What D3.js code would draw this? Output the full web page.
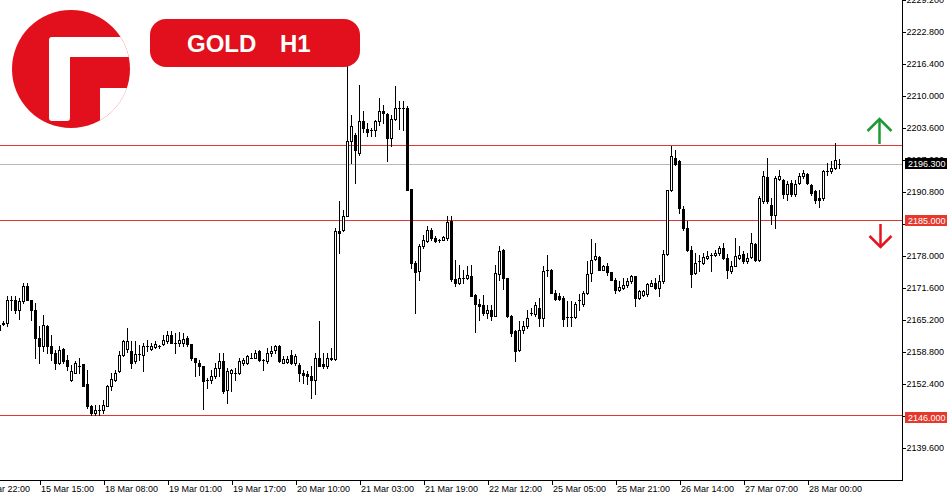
<!DOCTYPE html>
<html><head><meta charset="utf-8">
<script src="https://cdn.jsdelivr.net/npm/d3@7"></script>
<style>body{margin:0;background:#fff;}svg{display:block;}</style>
</head><body>
<svg id="c" width="950" height="500"></svg>
<script>
// ---- data (hourly candles, oldest first) ----
const openPrices = [
 2164.2,2164.4,2164.5,2169.2,2169.2,2167.1,2169.0,2172.0,2169.2,2167.1,
 2161.5,2159.9,2164.0,2159.9,2158.7,2156.7,2159.3,2157.1,2153.1,2154.7,
 2156.0,2156.4,2152.4,2147.9,2146.7,2147.1,2147.1,2148.0,2152.0,2153.2,
 2154.9,2158.1,2159.4,2159.0,2156.9,2158.4,2158.2,2160.0,2159.4,2159.7,
 2160.0,2160.4,2160.9,2162.2,2160.7,2160.5,2160.5,2161.7,2160.3,2157.5,
 2156.7,2155.9,2153.2,2153.1,2154.0,2155.7,2157.0,2151.1,2154.5,2154.7,
 2154.5,2156.5,2156.7,2157.7,2157.7,2158.9,2157.1,2156.9,2158.5,2159.1,
 2160.0,2156.7,2156.8,2158.2,2156.5,2156.1,2154.7,2154.3,2153.9,2153.2,
 2157.5,2156.4,2155.9,2157.3,2157.3,2182.9,2183.1,2186.0,2200.9,2202.2,
 2198.5,2205.0,2203.3,2203.2,2203.1,2204.9,2207.0,2206.4,2201.5,2205.3,
 2207.5,2207.6,2207.7,2191.3,2176.7,2174.9,2180.0,2180.9,2183.1,2181.5,
 2181.2,2181.2,2181.5,2184.9,2173.3,2172.5,2173.7,2173.7,2174.0,2170.2,
 2168.4,2168.2,2166.7,2167.2,2166.0,2174.4,2179.1,2173.5,2166.0,2162.9,
 2159.1,2163.1,2163.9,2166.5,2166.4,2167.5,2165.5,2175.1,2175.2,2170.7,
 2169.9,2169.7,2165.7,2165.7,2165.7,2169.2,2168.4,2170.5,2174.5,2177.3,
 2177.7,2175.2,2175.9,2174.7,2173.2,2171.1,2171.5,2172.1,2172.9,2173.9,
 2169.7,2170.2,2170.4,2172.0,2172.5,2171.5,2172.9,2178.4,2191.1,2197.5,
 2196.9,2187.3,2183.5,2179.1,2174.5,2176.9,2176.7,2177.5,2178.2,2178.1,
 2178.5,2179.5,2177.5,2174.9,2176.0,2177.5,2178.4,2176.9,2177.7,2180.4,
 2177.1,2188.9,2193.7,2188.2,2186.2,2193.3,2193.2,2190.4,2192.5,2190.4,
 2192.7,2193.9,2194.4,2192.2,2190.9,2189.5,2189.5,2194.9,2194.9,2195.5,
 2196.4];
const highPrices = [
 2164.8,2164.9,2169.9,2170.0,2170.0,2169.5,2172.5,2172.5,2169.2,2168.5,
 2163.9,2166.2,2164.2,2162.2,2159.2,2159.9,2159.5,2158.2,2156.2,2156.9,
 2157.5,2156.4,2155.2,2148.2,2148.2,2148.2,2149.2,2152.2,2154.5,2155.2,
 2158.9,2161.2,2163.5,2160.9,2160.9,2160.2,2160.7,2161.1,2160.5,2160.9,
 2160.2,2162.2,2162.9,2162.9,2162.5,2162.7,2162.5,2161.9,2160.3,2157.5,
 2157.2,2156.0,2153.5,2155.1,2156.5,2158.7,2158.7,2155.5,2155.3,2155.5,
 2157.5,2157.5,2158.2,2158.5,2159.1,2159.2,2157.3,2159.5,2159.9,2160.1,
 2160.2,2157.9,2157.9,2159.2,2158.4,2156.7,2155.1,2154.9,2155.9,2158.5,
 2164.9,2158.5,2158.7,2159.5,2183.5,2188.9,2187.2,2217.6,2206.2,2202.6,
 2212.2,2206.9,2204.5,2203.7,2205.2,2209.5,2208.2,2206.7,2206.2,2211.9,
 2208.9,2208.9,2208.0,2191.3,2176.9,2180.4,2182.2,2183.9,2183.5,2181.9,
 2181.3,2181.9,2186.0,2186.0,2177.1,2176.2,2175.2,2175.9,2176.2,2170.4,
 2169.3,2170.2,2168.2,2168.2,2176.2,2180.0,2179.3,2173.7,2166.2,2163.1,
 2164.9,2164.9,2167.2,2167.5,2168.7,2169.5,2175.9,2178.2,2175.3,2171.2,
 2170.5,2169.9,2168.9,2168.9,2168.7,2170.4,2170.9,2176.9,2181.3,2180.5,
 2177.9,2176.2,2176.5,2174.7,2173.5,2172.9,2173.5,2173.5,2174.2,2174.0,
 2171.1,2171.2,2172.5,2173.2,2173.7,2174.2,2179.2,2191.2,2200.0,2199.1,
 2197.1,2187.9,2184.9,2179.9,2178.5,2178.2,2178.5,2178.9,2178.5,2179.2,
 2179.9,2180.5,2178.4,2176.9,2181.5,2180.0,2178.9,2178.5,2182.5,2180.5,
 2189.9,2194.9,2197.7,2189.5,2193.9,2195.2,2193.3,2192.9,2193.2,2193.2,
 2194.5,2195.2,2194.5,2192.4,2191.1,2191.2,2195.1,2196.5,2196.9,2200.5,
 2197.3];
const lowPrices = [
 2162.2,2164.2,2163.9,2167.2,2166.5,2165.3,2168.5,2169.1,2165.2,2157.7,
 2156.7,2158.9,2158.5,2157.2,2155.3,2156.4,2156.7,2155.2,2152.9,2154.5,
 2154.5,2151.9,2147.7,2146.2,2146.1,2146.1,2146.7,2147.9,2151.2,2152.9,
 2154.8,2158.0,2158.8,2155.5,2156.7,2157.2,2154.9,2158.9,2159.2,2159.5,
 2159.5,2160.2,2160.5,2160.5,2158.7,2160.0,2159.9,2159.9,2157.1,2154.0,
 2154.2,2147.3,2151.5,2152.7,2153.7,2154.0,2150.5,2148.5,2150.9,2153.2,
 2154.4,2156.2,2156.4,2157.5,2157.5,2157.0,2155.2,2156.5,2157.9,2158.5,
 2156.8,2156.5,2156.5,2156.4,2156.2,2152.9,2152.5,2152.4,2149.7,2150.4,
 2155.9,2155.5,2155.7,2157.2,2157.2,2178.5,2182.9,2185.9,2196.5,2192.5,
 2198.2,2202.7,2201.9,2201.9,2201.9,2204.2,2204.5,2196.9,2200.0,2205.2,
 2203.3,2203.2,2191.1,2175.5,2166.5,2173.1,2179.7,2180.7,2181.2,2180.7,
 2180.8,2181.1,2181.2,2172.9,2172.0,2172.3,2172.5,2173.3,2169.9,2162.7,
 2165.1,2166.2,2165.5,2165.2,2165.9,2173.2,2171.3,2165.7,2161.9,2156.9,
 2158.9,2162.5,2163.5,2166.2,2166.0,2163.9,2164.0,2173.9,2170.5,2169.2,
 2169.2,2163.9,2163.9,2163.9,2165.5,2167.2,2168.0,2170.4,2172.9,2177.2,
 2175.1,2175.1,2174.2,2173.2,2170.7,2170.9,2171.3,2171.7,2172.5,2167.9,
 2169.3,2169.9,2169.9,2171.9,2171.3,2169.9,2172.7,2178.2,2190.9,2196.2,
 2186.7,2183.2,2178.9,2171.7,2174.4,2174.9,2176.4,2177.3,2174.9,2177.9,
 2178.2,2177.3,2173.5,2174.5,2175.9,2177.3,2176.7,2176.7,2177.5,2176.9,
 2176.9,2188.7,2188.5,2184.4,2183.7,2193.2,2189.5,2189.1,2189.9,2189.9,
 2192.4,2193.5,2192.4,2190.2,2188.5,2187.7,2189.2,2194.2,2194.5,2195.3,
 2195.7];
const closePrices = [
 2163.2,2164.6,2169.2,2169.1,2167.1,2168.9,2171.9,2169.2,2167.1,2161.7,
 2159.9,2164.2,2159.9,2158.7,2156.7,2159.2,2156.9,2156.0,2154.9,2156.7,
 2155.9,2152.0,2147.9,2146.5,2147.2,2147.2,2148.2,2152.0,2153.3,2154.7,
 2158.2,2161.0,2161.0,2156.5,2158.4,2158.3,2160.0,2160.0,2159.9,2160.4,
 2160.0,2161.2,2162.2,2160.7,2160.6,2161.1,2161.3,2160.4,2157.5,2156.8,
 2155.9,2152.9,2153.2,2154.0,2155.5,2157.0,2150.9,2154.9,2155.1,2154.7,
 2156.9,2157.2,2157.9,2157.7,2158.7,2157.1,2157.1,2158.5,2158.9,2159.9,
 2156.9,2157.3,2157.3,2156.5,2158.0,2154.5,2154.2,2153.9,2153.2,2157.7,
 2156.0,2155.9,2157.5,2157.7,2182.9,2182.6,2185.9,2200.9,2203.9,2199.2,
 2204.9,2203.5,2202.7,2203.2,2204.9,2206.9,2206.5,2201.5,2205.3,2207.5,
 2207.7,2207.5,2191.2,2176.7,2174.7,2180.0,2181.1,2183.1,2181.5,2180.9,
 2181.2,2181.7,2184.7,2173.3,2172.5,2173.7,2173.7,2174.2,2170.0,2168.4,
 2168.0,2166.7,2167.2,2166.0,2174.5,2178.9,2173.5,2166.0,2162.5,2158.9,
 2163.2,2164.0,2165.5,2166.5,2168.2,2165.5,2174.9,2175.1,2170.7,2169.3,
 2169.3,2165.3,2165.7,2165.8,2168.4,2169.2,2170.5,2174.4,2177.2,2177.9,
 2175.2,2176.0,2174.7,2173.2,2171.1,2171.7,2172.1,2173.0,2173.9,2169.5,
 2170.9,2170.9,2172.3,2172.5,2171.5,2172.9,2178.4,2191.1,2197.9,2196.4,
 2187.5,2183.5,2179.1,2174.4,2176.7,2176.9,2177.7,2178.0,2178.2,2178.7,
 2179.5,2177.5,2175.2,2176.0,2177.9,2178.2,2176.9,2177.5,2180.5,2177.1,
 2189.5,2193.9,2188.9,2186.2,2193.5,2193.9,2190.4,2192.4,2190.4,2192.4,
 2193.9,2194.7,2192.5,2190.5,2189.1,2189.2,2194.9,2194.9,2195.5,2197.1,
 2196.3];
const timeLabels = ["14 Mar 22:00","15 Mar 15:00","18 Mar 08:00","19 Mar 01:00","19 Mar 17:00",
 "20 Mar 10:00","21 Mar 03:00","21 Mar 19:00","22 Mar 12:00","25 Mar 05:00","25 Mar 21:00",
 "26 Mar 14:00","27 Mar 07:00","28 Mar 00:00"];
const timeLabelIndex = [-6,10,26,42,58,74,90,106,122,138,154,170,186,202];
const priceTicks = [2139.6,2146.0,2152.4,2158.8,2165.2,2171.6,2178.0,2184.4,2190.8,2197.2,2203.6,2210.0,2216.4,2222.8,2229.2];
const hiddenTickLabels = [2184.4, 2146.0];
const redLevels = [2200.0, 2185.0, 2146.0];
const labelLevels = [2185.0, 2146.0];
const currentPrice = 2196.3;
const symbolName = "GOLD";
const timeframe = "H1";

// ---- drawing ----
const FONT = "'Liberation Sans', Arial, sans-serif";
const svg = d3.select("#c");
const plotR = 902, plotB = 480;
const y = d3.scaleLinear().domain([2133.2, 2229.2]).range([plotB, 0]);
const x = d3.scaleLinear().domain([0, 210]).range([-0.5, 839.5]);

svg.append("defs").append("clipPath").attr("id","plotClip")
  .append("rect").attr("x",0).attr("y",0).attr("width",plotR).attr("height",plotB);

const plot = svg.append("g").attr("clip-path","url(#plotClip)").attr("shape-rendering","crispEdges");
const py = p => Math.floor(y(p)) + 0.5;

// current price line (grey)
plot.append("line").attr("x1",0).attr("x2",plotR)
  .attr("y1",py(currentPrice)).attr("y2",py(currentPrice))
  .attr("stroke","#b8b8b8").attr("stroke-width",1);
// red level lines
plot.selectAll("line.lvl").data(redLevels).join("line").attr("class","lvl")
  .attr("x1",0).attr("x2",plotR).attr("y1",d=>py(d)).attr("y2",d=>py(d))
  .attr("stroke","#dc3a30").attr("stroke-width",1);

// candles
const candles = openPrices.map((o,i)=>({i,o,h:highPrices[i],l:lowPrices[i],c:closePrices[i]}));
const cg = plot.append("g");
candles.forEach(d=>{
  const cx = x(d.i);
  const oy = Math.round(y(d.o)), cy = Math.round(y(d.c));
  const hy = Math.round(y(d.h)), ly = Math.round(y(d.l));
  const top = Math.min(oy,cy), bot = Math.max(oy,cy);
  cg.append("line").attr("x1",cx).attr("x2",cx)
    .attr("y1",Math.min(hy,top)).attr("y2",Math.max(ly,bot)+1)
    .attr("stroke","#000").attr("stroke-width",1);
  if (bot - top < 1) {
    cg.append("rect").attr("x",cx-1.5).attr("y",top).attr("width",3).attr("height",1).attr("fill","#000");
  } else if (d.c > d.o) {
    cg.append("rect").attr("x",cx-1).attr("y",top+0.5).attr("width",2).attr("height",bot-top)
      .attr("fill","#fff").attr("stroke","#000").attr("stroke-width",1);
  } else {
    cg.append("rect").attr("x",cx-1.5).attr("y",top).attr("width",3).attr("height",bot-top+1).attr("fill","#000");
  }
});

// frame
const frame = svg.append("g").attr("shape-rendering","crispEdges");
frame.append("line").attr("x1",plotR+0.5).attr("x2",plotR+0.5).attr("y1",0).attr("y2",plotB+1).attr("stroke","#000");
frame.append("line").attr("x1",0).attr("x2",plotR+1).attr("y1",plotB+0.5).attr("y2",plotB+0.5).attr("stroke","#000");

// right price axis
const axY = d3.axisRight(y).tickValues(priceTicks).tickSize(3).tickSizeOuter(0).tickPadding(1)
  .tickFormat(d => hiddenTickLabels.includes(d) ? "" : d3.format(".3f")(d));
const gy = svg.append("g").attr("transform",`translate(${plotR+0.5},0)`).attr("shape-rendering","crispEdges").call(axY);
gy.select(".domain").remove();
gy.selectAll("line").attr("stroke","#000");
gy.selectAll("text").attr("font-family",FONT).attr("font-size",9).attr("fill","#000");

// bottom time axis
const axX = d3.axisBottom(x).tickValues(timeLabelIndex).tickSize(4).tickSizeOuter(0)
  .tickFormat((d,k)=>timeLabels[k]);
const gx = svg.append("g").attr("transform",`translate(0,${plotB+0.5})`).attr("shape-rendering","crispEdges").call(axX);
gx.select(".domain").remove();
gx.selectAll("line").attr("stroke","#000");
gx.selectAll("text").attr("font-family",FONT).attr("font-size",9).attr("fill","#000")
  .attr("text-anchor","start").attr("x",1).attr("y",11).attr("dy",0);

// price boxes
function priceBox(p, fill, dyTop){
  const yy = Math.floor(y(p));
  svg.append("rect").attr("x",905).attr("y",yy+dyTop).attr("width",42).attr("height",11)
    .attr("fill",fill).attr("shape-rendering","crispEdges");
  svg.append("text").attr("x",908).attr("y",yy+dyTop+9).attr("font-family",FONT).attr("font-size",9)
    .attr("fill","#fff").text(p.toFixed(3));
}
priceBox(currentPrice, "#000", -6);
priceBox(labelLevels[0], "#e6392e", -5);
priceBox(labelLevels[1], "#e6392e", -3);

// title pill
svg.append("rect").attr("x",150).attr("y",19).attr("width",210).attr("height",48).attr("rx",16)
  .attr("fill","#e20f1c");
svg.append("text").attr("x",187).attr("y",52).attr("font-family",FONT).attr("font-weight","bold")
  .attr("font-size",24).attr("fill","#fff").text(symbolName);
svg.append("text").attr("x",280).attr("y",52).attr("font-family",FONT).attr("font-weight","bold")
  .attr("font-size",24).attr("fill","#fff").text(timeframe);

// logo
const defs = svg.select("defs");
defs.append("clipPath").attr("id","logoClip").append("circle").attr("cx",71).attr("cy",69).attr("r",59);
const logo = svg.append("g").attr("clip-path","url(#logoClip)");
logo.append("rect").attr("x",0).attr("y",0).attr("width",140).attr("height",140).attr("fill","#e20f1c");
logo.append("rect").attr("x",49).attr("y",37).attr("width",21).attr("height",84).attr("rx",3).attr("fill","#fff");
logo.append("rect").attr("x",66).attr("y",37).attr("width",80).attr("height",20).attr("fill","#fff");
logo.append("rect").attr("x",100).attr("y",88).attr("width",50).attr("height",60).attr("fill","#fff");

// arrows
const up = svg.append("g").attr("fill","none").attr("stroke","#1e9a33").attr("stroke-width",2.5);
up.append("line").attr("x1",879.5).attr("x2",879.5).attr("y1",120).attr("y2",144);
up.append("polyline").attr("points","867.5,131 879.5,119 891.5,131");
const dn = svg.append("g").attr("fill","none").attr("stroke","#e3151f").attr("stroke-width",2.5);
dn.append("line").attr("x1",880.5).attr("x2",880.5).attr("y1",224).attr("y2",247);
dn.append("polyline").attr("points","869.5,236 880.5,247 891.5,236");
</script>
</body></html>
